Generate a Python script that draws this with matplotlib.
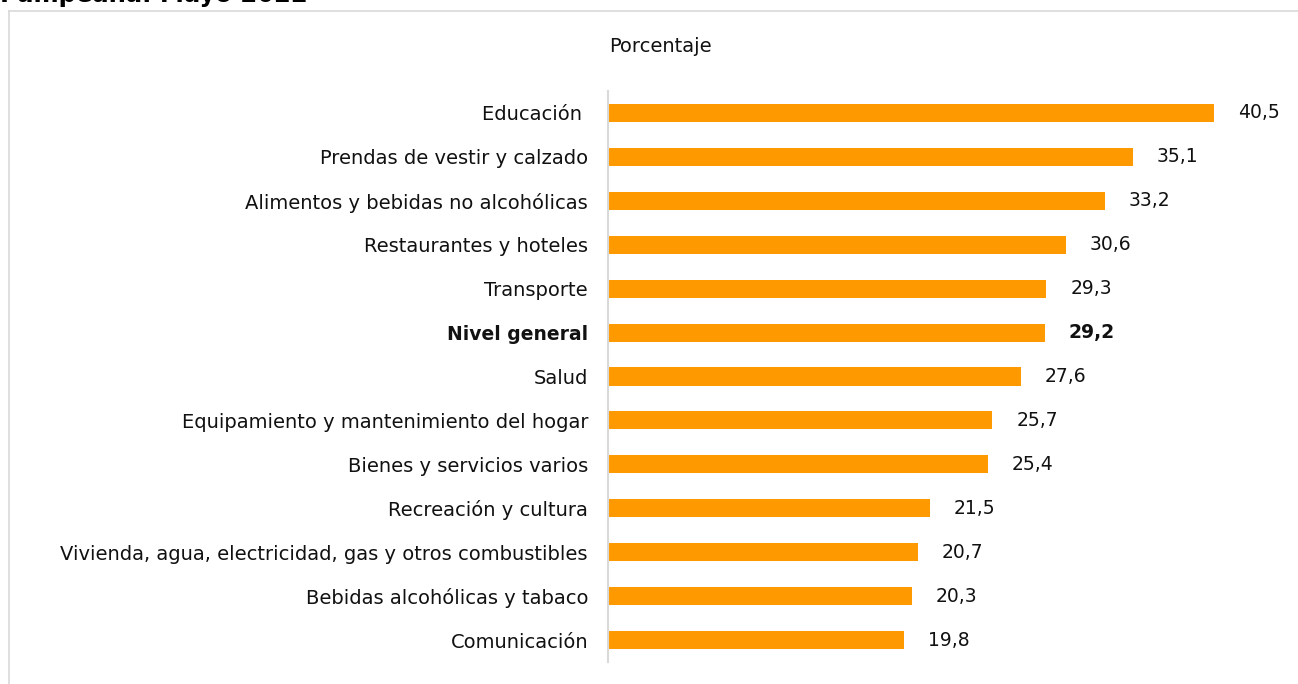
import matplotlib
matplotlib.use("Agg")
import matplotlib.pyplot as plt

categories = [
    "Educación ",
    "Prendas de vestir y calzado",
    "Alimentos y bebidas no alcohólicas",
    "Restaurantes y hoteles",
    "Transporte",
    "Nivel general",
    "Salud",
    "Equipamiento y mantenimiento del hogar",
    "Bienes y servicios varios",
    "Recreación y cultura",
    "Vivienda, agua, electricidad, gas y otros combustibles",
    "Bebidas alcohólicas y tabaco",
    "Comunicación",
]
values = [40.5, 35.1, 33.2, 30.6, 29.3, 29.2, 27.6, 25.7, 25.4, 21.5, 20.7, 20.3, 19.8]
bold_category = "Nivel general"
title_text = "Pampeana. Mayo 2022"
unit_text = "Porcentaje"

plt.rcParams['font.family'] = ['DejaVu Sans']

W, H = 1298, 684
fig = plt.figure(figsize=(W / 100, H / 100), dpi=100)

x0, x1 = 608, 1281
y_top, y_bot = 91, 662
ax = fig.add_axes([x0 / W, 1 - y_bot / H, (x1 - x0) / W, (y_bot - y_top) / H])

ypos = list(range(len(categories)))
ax.barh(ypos, values, height=0.41, color="#FF9900", zorder=2)
ax.set_xlim(0, 45)
ax.set_ylim(len(categories) - 0.5, -0.5)

FS_LBL = 14
FS = 13.5
for s in ["top", "right", "bottom"]:
    ax.spines[s].set_visible(False)
ax.spines["left"].set_color("#d9d9d9")
ax.spines["left"].set_linewidth(1.5)
ax.set_xticks([])
ax.set_yticks(ypos)
ax.set_yticklabels(categories, fontsize=FS_LBL, color="#111111")
ax.tick_params(axis="y", length=0, pad=14.4)
for lbl, cat in zip(ax.get_yticklabels(), categories):
    if cat == bold_category:
        lbl.set_fontweight("bold")
        lbl.set_fontsize(FS)

for y, v, cat in zip(ypos, values, categories):
    ax.text(v + 1.6, y, f"{v:.1f}".replace(".", ","), va="center", ha="left",
            fontsize=FS, color="#111111",
            fontweight="bold" if cat == bold_category else "normal")

fig.text(660 / W, 1 - 46 / H, unit_text, ha="center", va="center", fontsize=14, color="#111111")
fig.text(0, 1 - 2 / H, title_text, ha="left", va="baseline", fontsize=17.5, fontweight="bold", color="#000000")

# outer frame (light gray) at left and top
fig.add_artist(plt.Line2D([9 / W, 9 / W], [0, 1 - 11 / H], transform=fig.transFigure, color="#d9d9d9", lw=1.2))
fig.add_artist(plt.Line2D([9 / W, 1], [1 - 11 / H, 1 - 11 / H], transform=fig.transFigure, color="#d9d9d9", lw=1.2))

fig.savefig("out.png", dpi=100)
